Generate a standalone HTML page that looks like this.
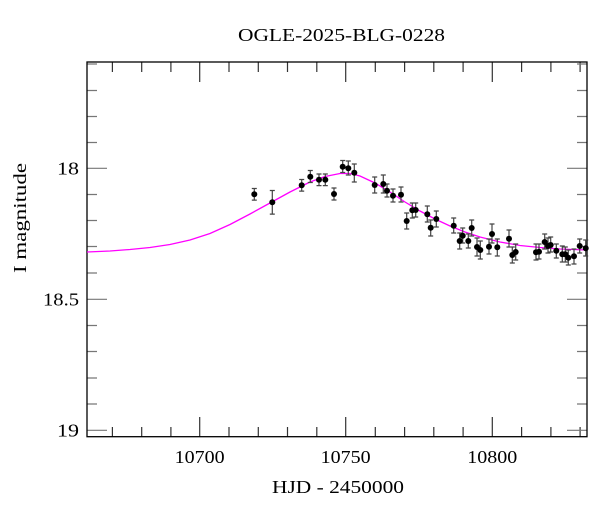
<!DOCTYPE html>
<html><head><meta charset="utf-8"><style>
html,body{margin:0;padding:0;background:#fff;}
svg text{font-family:"Liberation Serif",serif;fill:#000;}
</style></head><body>
<svg width="600" height="512" viewBox="0 0 600 512" xmlns="http://www.w3.org/2000/svg">
<rect width="600" height="512" fill="#fff"/>
<text x="238" y="41" font-size="18" textLength="207" lengthAdjust="spacingAndGlyphs">OGLE-2025-BLG-0228</text>
<text x="272" y="493" font-size="18" textLength="132" lengthAdjust="spacingAndGlyphs">HJD - 2450000</text>
<text transform="translate(26,273) rotate(-90)" font-size="18" textLength="110" lengthAdjust="spacingAndGlyphs">I magnitude</text>
<g font-size="18">
<text x="174.7" y="463" textLength="50" lengthAdjust="spacingAndGlyphs">10700</text>
<text x="320.7" y="463" textLength="50" lengthAdjust="spacingAndGlyphs">10750</text>
<text x="467.3" y="463" textLength="50" lengthAdjust="spacingAndGlyphs">10800</text>
<text x="57" y="174.5" textLength="22" lengthAdjust="spacingAndGlyphs">18</text>
<text x="43" y="305.5" textLength="36" lengthAdjust="spacingAndGlyphs">18.5</text>
<text x="57" y="436.5" textLength="22" lengthAdjust="spacingAndGlyphs">19</text>
</g>
<g stroke="#333" stroke-width="1.2">
<path d="M112.4,437v-10M141.7,437v-10M170.9,437v-10M199.7,437v-20M229,437v-10M258.3,437v-10M287.5,437v-10M316.8,437v-10M345.7,437v-20M375.3,437v-10M404.6,437v-10M433.8,437v-10M463.1,437v-10M492.3,437v-20M521.6,437v-10M550.9,437v-10M580.1,437v-10"/>
<path d="M112.4,62v10M141.7,62v10M170.9,62v10M199.7,62v20M229,62v10M258.3,62v10M287.5,62v10M316.8,62v10M345.7,62v20M375.3,62v10M404.6,62v10M433.8,62v10M463.1,62v10M492.3,62v20M521.6,62v10M550.9,62v10M580.1,62v10"/>
<path stroke="#777" d="M87,64h10M87,90.5h10M87,116.5h10M87,142.5h10M87,168.3h20M87,194.5h10M87,220.5h10M87,246.5h10M87,273h10M87,299.3h20M87,325.5h10M87,351.5h10M87,378h10M87,404h10M87,430.3h20"/>
<path stroke="#777" d="M587,64h-10M587,90.5h-10M587,116.5h-10M587,142.5h-10M587,168.3h-20M587,194.5h-10M587,220.5h-10M587,246.5h-10M587,273h-10M587,299.3h-20M587,325.5h-10M587,351.5h-10M587,378h-10M587,404h-10M587,430.3h-20"/>
</g>
<rect x="87" y="62" width="500" height="374.7" fill="none" stroke="#000" stroke-width="1.3"/>
<polyline fill="none" stroke="#ff00ff" stroke-width="1.3" points="87,252 110,251 130,249.5 150,247.5 170,244.5 190,240 210,233.5 230,224.5 250,214 270,203 290,192 310,182 325,176.5 340,173.5 350,173.5 360,176 375,183 390,192 405,202 420,211 435,219 450,226 465,232 480,237 500,242 520,245.5 540,247.5 560,249 587,250"/>
<g stroke="#444" stroke-width="1.2" fill="none">
<path d="M254.3,188.5v11.6M251.8,188.5h5M251.8,200.1h5 M272.3,190.5v23.6M269.8,190.5h5M269.8,214.1h5 M301.7,179.5v11.6M299.2,179.5h5M299.2,191.1h5 M310.3,170.5v12M307.8,170.5h5M307.8,182.5h5 M319,174v11.6M316.5,174h5M316.5,185.6h5 M325.3,174v11.6M322.8,174h5M322.8,185.6h5 M334,188v12M331.5,188h5M331.5,200h5 M342.7,160.5v12M340.2,160.5h5M340.2,172.5h5 M348.3,161v14M345.8,161h5M345.8,175h5 M354.3,164v18M351.8,164h5M351.8,182h5 M374.7,177v16M372.2,177h5M372.2,193h5 M383.3,175v18M380.8,175h5M380.8,193h5 M387,184v13M384.5,184h5M384.5,197h5 M393,189v13M390.5,189h5M390.5,202h5 M401,187v15M398.5,187h5M398.5,202h5 M406.7,213v16M404.2,213h5M404.2,229h5 M412.3,203v15M409.8,203h5M409.8,218h5 M415.7,203v14M413.2,203h5M413.2,217h5 M427.3,206v16M424.8,206h5M424.8,222h5 M430.7,220v16M428.2,220h5M428.2,236h5 M436.3,211v16M433.8,211h5M433.8,227h5 M453.7,218v15M451.2,218h5M451.2,233h5 M459.7,233v16M457.2,233h5M457.2,249h5 M462.7,228v15M460.2,228h5M460.2,243h5 M468.3,234v14M465.8,234h5M465.8,248h5 M471.7,220v16M469.2,220h5M469.2,236h5 M477,238v18M474.5,238h5M474.5,256h5 M480.3,241v18M477.8,241h5M477.8,259h5 M489,239v15M486.5,239h5M486.5,254h5 M492,224v19M489.5,224h5M489.5,243h5 M497.3,239v17M494.8,239h5M494.8,256h5 M509,230v17M506.5,230h5M506.5,247h5 M512.3,247v16M509.8,247h5M509.8,263h5 M515.7,244v16M513.2,244h5M513.2,260h5 M536,244v16M533.5,244h5M533.5,260h5 M539,244v15M536.5,244h5M536.5,259h5 M544.7,234v15M542.2,234h5M542.2,249h5 M548,238v15M545.5,238h5M545.5,253h5 M550.7,237v15M548.2,237h5M548.2,252h5 M556.3,244v14M553.8,244h5M553.8,258h5 M562.3,246v16M559.8,246h5M559.8,262h5 M565.3,247v15M562.8,247h5M562.8,262h5 M568.3,250v15M565.8,250h5M565.8,265h5 M574,249v15M571.5,249h5M571.5,264h5 M579.7,239v14M577.2,239h5M577.2,253h5 M585.7,240v16M583.2,240h5M583.2,256h5"/>
</g>
<g fill="#000">
<circle cx="254.3" cy="194.3" r="3"/><circle cx="272.3" cy="202.3" r="3"/><circle cx="301.7" cy="185.3" r="3"/><circle cx="310.3" cy="176.7" r="3"/><circle cx="319" cy="179.7" r="3"/><circle cx="325.3" cy="179.7" r="3"/><circle cx="334" cy="194" r="3"/><circle cx="342.7" cy="166.7" r="3"/><circle cx="348.3" cy="168.3" r="3"/><circle cx="354.3" cy="172.7" r="3"/><circle cx="374.7" cy="185" r="3"/><circle cx="383.3" cy="184" r="3"/><circle cx="387" cy="190.7" r="3"/><circle cx="393" cy="195.7" r="3"/><circle cx="401" cy="194.7" r="3"/><circle cx="406.7" cy="221" r="3"/><circle cx="412.3" cy="210.3" r="3"/><circle cx="415.7" cy="210" r="3"/><circle cx="427.3" cy="214.3" r="3"/><circle cx="430.7" cy="227.7" r="3"/><circle cx="436.3" cy="219" r="3"/><circle cx="453.7" cy="225.7" r="3"/><circle cx="459.7" cy="241" r="3"/><circle cx="462.7" cy="235.7" r="3"/><circle cx="468.3" cy="241" r="3"/><circle cx="471.7" cy="228" r="3"/><circle cx="477" cy="247" r="3"/><circle cx="480.3" cy="250" r="3"/><circle cx="489" cy="246.7" r="3"/><circle cx="492" cy="234" r="3"/><circle cx="497.3" cy="247.3" r="3"/><circle cx="509" cy="238.7" r="3"/><circle cx="512.3" cy="255" r="3"/><circle cx="515.7" cy="252" r="3"/><circle cx="536" cy="252.3" r="3"/><circle cx="539" cy="251.7" r="3"/><circle cx="544.7" cy="242" r="3"/><circle cx="548" cy="246" r="3"/><circle cx="550.7" cy="245" r="3"/><circle cx="556.3" cy="250.7" r="3"/><circle cx="562.3" cy="254.3" r="3"/><circle cx="565.3" cy="254.3" r="3"/><circle cx="568.3" cy="257.7" r="3"/><circle cx="574" cy="256.3" r="3"/><circle cx="579.7" cy="246" r="3"/><circle cx="585.7" cy="248.3" r="3"/>
</g>
</svg>
</body></html>
